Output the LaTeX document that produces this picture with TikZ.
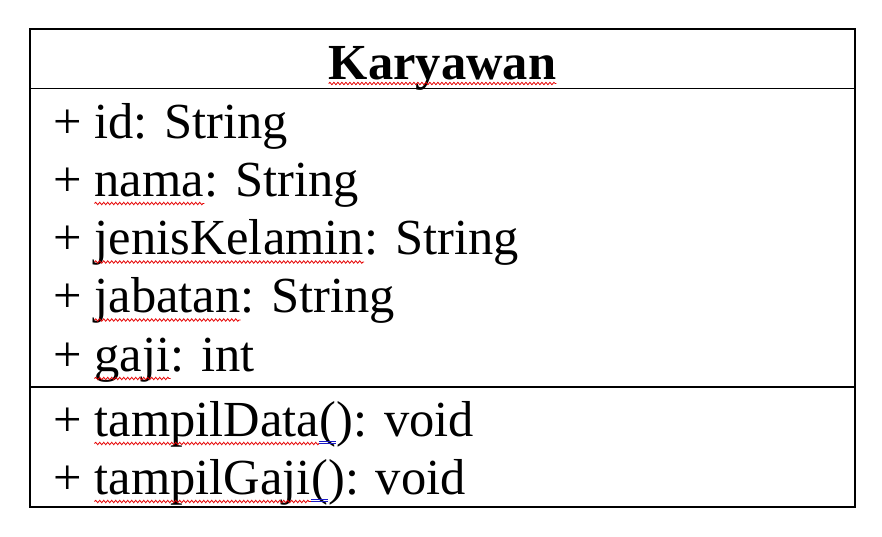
\documentclass[tikz,border=0pt]{standalone}
\usepackage{fontspec}
\setmainfont{Liberation Serif}
\usetikzlibrary
  {
    positioning,              % place nodes relative to other nodes
    decorations.pathmorphing, % wavy spelling marks
  }

\begin{document}
\begin{tikzpicture}
    [
      x=1pt,
      y=-1pt,
      member/.style=
        {
          inner sep=0pt,
          anchor=base west,
          font=\fontsize{50.5}{58}\selectfont,
        },
      classname/.style=
        {
          inner sep=0pt,
          anchor=base,
          font=\fontsize{50.5}{58}\selectfont\bfseries,
        },
      spelling/.style=
        {
          red!90!black,
          line width=0.8pt,
          decorate,
          decoration={snake, segment length=4pt, amplitude=1.2pt},
        },
      grammar/.style=
        {
          blue!75!black!90,
          line width=0.8pt,
        },
      frame/.style=
        {
          line width=1.5pt,
        }
    ]
    \useasboundingbox (0,0) rectangle (882,536);

    % class box
    \draw [frame] (30,29) rectangle (855,507);
    \draw [frame] (30,88.5) -- (855,88.5);
    \draw [frame] (30,387) -- (855,387);

    % name
    \node (className) [classname] at (442.5,79) {Karyawan};

    % attributes
    \node (attrId) [member] at (53,138) {+ id: String};

    \node (plusNama) [member] at (53,196) {+\ \null};
    \node (nama) [member, base right=0pt of plusNama] {nama};
    \node (typeNama) [member, base right=0pt of nama] {: String};

    \node (plusJenis) [member] at (53,254.5) {+\ \null};
    \node (jenisKelamin) [member, base right=0pt of plusJenis] {jenisKelamin};
    \node (typeJenis) [member, base right=0pt of jenisKelamin] {: String};

    \node (plusJabatan) [member] at (53,312.5) {+\ \null};
    \node (jabatan) [member, base right=0pt of plusJabatan] {jabatan};
    \node (typeJabatan) [member, base right=0pt of jabatan] {: String};

    \node (plusGaji) [member] at (53,371) {+\ \null};
    \node (gaji) [member, base right=0pt of plusGaji] {gaji};
    \node (typeGaji) [member, base right=0pt of gaji] {: int};

    % operations
    \node (plusData) [member] at (53,436) {+\ \null};
    \node (tampilData) [member, base right=0pt of plusData] {tampilData};
    \node (parenData) [member, base right=0pt of tampilData] {(};
    \node (typeData) [member, base right=0pt of parenData] {): void};

    \node (plusTGaji) [member] at (53,494) {+\ \null};
    \node (tampilGaji) [member, base right=0pt of plusTGaji] {tampilGaji};
    \node (parenGaji) [member, base right=0pt of tampilGaji] {(};
    \node (typeTGaji) [member, base right=0pt of parenGaji] {): void};

    % spelling marks
    \draw [spelling] ([yshift=-4.5pt]className.base west)
                  -- ([yshift=-4.5pt]className.base east);
    \foreach \word in {nama, jenisKelamin, jabatan, gaji, tampilData, tampilGaji}
      \draw [spelling] ([yshift=-7.5pt]\word.base west)
                    -- ([yshift=-7.5pt]\word.base east);
    \foreach \paren in {parenData, parenGaji}
      \draw [grammar] ([yshift=-5pt]\paren.base west) -- ([yshift=-5pt]\paren.base east)
                      ([yshift=-7.5pt]\paren.base west) -- ([yshift=-7.5pt]\paren.base east);
  \end{tikzpicture}
\end{document}
